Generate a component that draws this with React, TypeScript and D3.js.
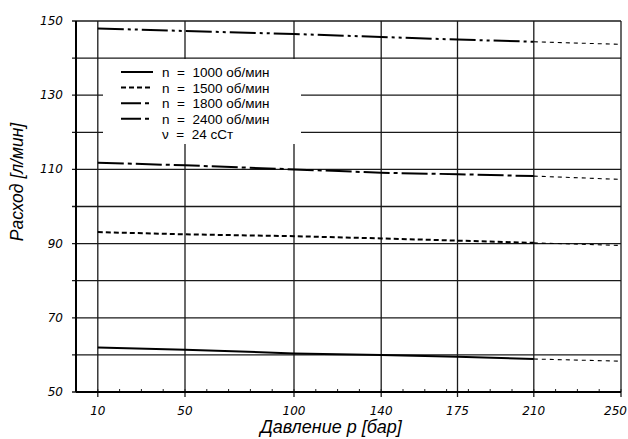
import React from "react";
import * as d3 from "d3";

const pressures = [10, 50, 100, 140, 175, 210, 250];
const xTicks = [10, 50, 100, 140, 175, 210, 250];
const yLabelTicks = [50, 70, 90, 110, 130, 150];
const yGridTicks = [50, 60, 70, 80, 90, 100, 110, 120, 130, 140, 150];

const flow1000 = [62.0, 61.4, 60.4, 60.0, 59.5, 58.9, 58.3];
const flow1500 = [93.1, 92.5, 92.0, 91.4, 90.8, 90.2, 89.5];
const flow1800 = [111.8, 111.1, 110.0, 109.1, 108.7, 108.2, 107.3];
const flow2400 = [148.0, 147.3, 146.5, 145.7, 145.0, 144.4, 143.7];

const seriesNames = ["n  =  1000 об/мин", "n  =  1500 об/мин", "n  =  1800 об/мин", "n  =  2400 об/мин"];
const viscosityLabel = "ν  =  24 сСт";
const xTitle = "Давление p [бар]";
const yTitle = "Расход [л/мин]";
const ratedPressure = 210;

const W = 628;
const H = 439;
const left = 76, right = 621, top = 21, bottom = 392;

export default function App() {
  const x = d3.scaleLinear().domain([0, 250]).range([left, right]);
  const y = d3.scaleLinear().domain([50, 150]).range([bottom, top]);
  const line = d3.line<[number, number]>().x(d => x(d[0])).y(d => y(d[1]));

  const series = [
    { name: seriesNames[0], values: flow1000, dash: "none" },
    { name: seriesNames[1], values: flow1500, dash: "5,3" },
    { name: seriesNames[2], values: flow1800, dash: "26,4,4,4" },
    { name: seriesNames[3], values: flow2400, dash: "26,4,3,4,3,4" },
  ];

  const minorTicks = d3.range(0, 251, 10);
  const tickFont = "'DejaVu Sans', sans-serif";
  const textFont = "'Liberation Sans', Arial, sans-serif";

  return (
    <svg width={W} height={H} style={{ position: "absolute", left: 0, top: 0, background: "#fff" }}>
      <rect x={0} y={0} width={W} height={H} fill="#fff" />
      {yGridTicks.map(t => (
        <line key={"h" + t} x1={left - 4} x2={right} y1={y(t)} y2={y(t)} stroke="#1a1a1a" strokeWidth={1.3} />
      ))}
      {xTicks.map(t => (
        <line key={"v" + t} x1={x(t)} x2={x(t)} y1={top} y2={bottom + 5} stroke="#1a1a1a" strokeWidth={1.3} />
      ))}
      {minorTicks.map(t => (
        <line key={"m" + t} x1={x(t)} x2={x(t)} y1={bottom} y2={bottom - 3} stroke="#222" strokeWidth={1} />
      ))}
      <rect x={103} y={59} width={198} height={85} fill="#fff" />
      <line x1={left} x2={left} y1={top} y2={bottom} stroke="#000" strokeWidth={2} />
      <line x1={left} x2={right} y1={bottom} y2={bottom} stroke="#000" strokeWidth={2} />
      {series.map(s => {
        const pts: [number, number][] = pressures.map((p, i) => [p, s.values[i]]);
        const main = pts.filter(d => d[0] <= ratedPressure);
        const ext = pts.filter(d => d[0] >= ratedPressure);
        return (
          <g key={s.name}>
            <path d={line(main) || ""} fill="none" stroke="#000" strokeWidth={2} strokeDasharray={s.dash} />
            <path d={line(ext) || ""} fill="none" stroke="#000" strokeWidth={1.1} strokeDasharray="4,4" />
          </g>
        );
      })}
      {yLabelTicks.map(t => (
        <text key={"yl" + t} x={63} y={y(t) + 4} textAnchor="end" fontFamily={tickFont} fontStyle="italic" fontSize={12} fill="#000">{t}</text>
      ))}
      {xTicks.map((t, i) => {
        const last = i === xTicks.length - 1;
        return (
          <text key={"xl" + t} x={last ? 627 : x(t)} y={415} textAnchor={last ? "end" : "middle"} fontFamily={tickFont} fontStyle="italic" fontSize={12} fill="#000">{t}</text>
        );
      })}
      {series.map((s, i) => {
        const cy = 72 + i * 15.6;
        return (
          <g key={"lg" + i}>
            <line x1={121} x2={153} y1={cy} y2={cy} stroke="#000" strokeWidth={2}
              strokeDasharray={i === 0 ? "none" : i === 1 ? "5,3" : "20,4,4,10"} />
            <text x={162} y={cy + 5} fontFamily={textFont} fontSize={13.5} fill="#000" style={{ whiteSpace: "pre" }}>{s.name}</text>
          </g>
        );
      })}
      <text x={162} y={72 + 4 * 15.6 + 5} fontFamily={textFont} fontSize={13.5} fill="#000" style={{ whiteSpace: "pre" }}>{viscosityLabel}</text>
      <text x={331} y={433} textAnchor="middle" fontFamily={textFont} fontStyle="italic" fontSize={18} fill="#000">{xTitle}</text>
      <text transform={`translate(23,182) rotate(-90)`} textAnchor="middle" fontFamily={textFont} fontStyle="italic" fontSize={17.5} fill="#000">{yTitle}</text>
    </svg>
  );
}
